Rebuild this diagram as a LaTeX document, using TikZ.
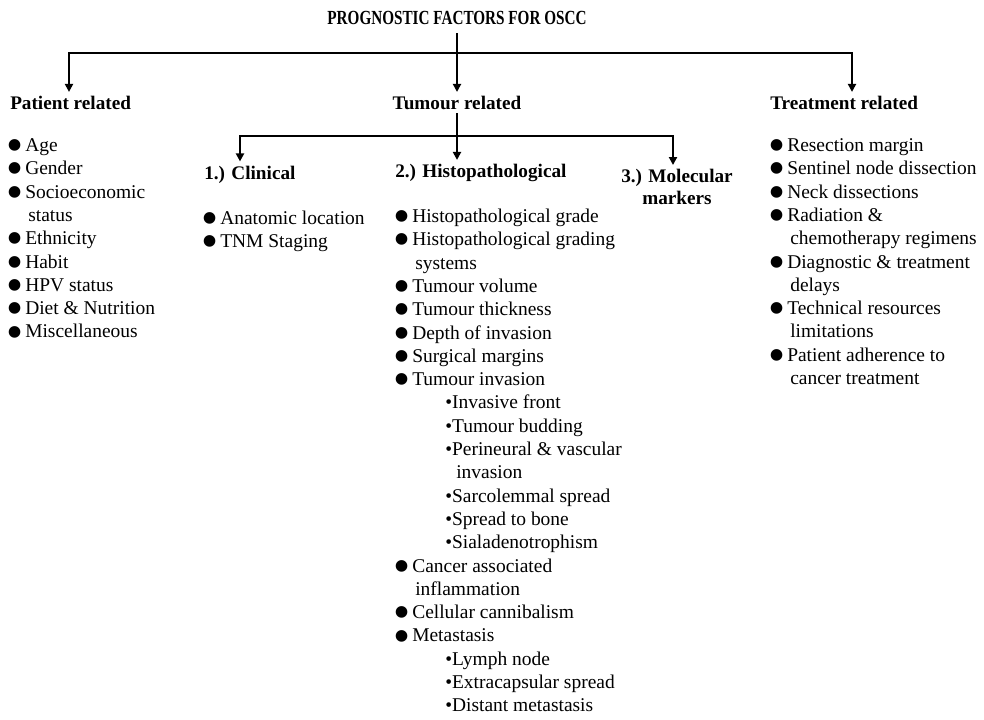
\documentclass[tikz,border=0pt]{standalone}
\usepackage{fontspec}
\setmainfont{Liberation Serif}
\usetikzlibrary{arrows.meta}

\newcommand\bul{\makebox[11.25pt][l]{\hspace*{-2.5pt}\smash{\raisebox{-0.52em}{\scalebox{2.5}{\textbullet}}}}}
\newcommand\Eb[1]{\bul#1}
\newcommand\Ec[1]{\hspace*{13.5pt}#1}
\newcommand\Es[1]{\hspace*{36pt}\textbullet#1}
\newcommand\Et[1]{\hspace*{44.25pt}#1}

\tikzset{
  wire/.style={line width=1.5pt, line cap=rect},
  link/.style={wire, -{Triangle[length=6pt,width=6pt]}},
  head/.style={font=\bfseries\fontsize{14.4}{16.5}\selectfont, inner xsep=0pt, inner ysep=3pt},
  entry/.style={font=\fontsize{14.6}{17.5}\selectfont, inner sep=0pt, anchor=base west}
}

\begin{document}
\begin{tikzpicture}[x=0.75pt,y=-0.75pt]
    \fill[white] (0,0) rectangle (984,719);
    \useasboundingbox (0,0) rectangle (984,719);
    % Primer nivel: titulo y tres grupos.
    \node[head, anchor=base, inner ysep=6.5pt, font=\bfseries\fontsize{15}{17}\selectfont] (ttl) at (457,24.5)
        {\scalebox{0.76}[1]{PROGNOSTIC FACTORS FOR OSCC}};
    \node[head, anchor=base west] (pat) at (10,109.5) {Patient related};
    \node[head, anchor=base] (tum) at (457,109.5) {Tumour related};
    \node[head, anchor=base west] (trt) at (770,109.5) {Treatment related};
    \coordinate (top) at (457,53);
    \coordinate (jp) at (69,53);
    \coordinate (jt) at (852,53);
    \draw[wire] (ttl.south) -- (top);
    \draw[wire] (jp) -- (jt);
    \draw[link] (jp) -- (jp |- pat.north);
    \draw[link] (top) -- (tum.north);
    \draw[link] (jt) -- (jt |- trt.north);
    % Segundo nivel bajo el tumor.
    \node[head, anchor=base west] (cli) at (204,179) {1.) Clinical};
    \node[head, anchor=base west] (his) at (395,177.5) {2.) Histopathological};
    \node[head, anchor=north, align=center] (mol) at (677,165) {3.) Molecular\\markers};
    \coordinate (mid) at (457,136);
    \coordinate (jc) at (240,136);
    \coordinate (jm) at (673,136);
    \draw[wire] (tum.south) -- (mid);
    \draw[wire] (jc) -- (jm);
    \draw[link] (jc) -- (jc |- cli.north);
    \draw[link] (mid) -- (mid |- his.north);
    \draw[link] (jm) -- (jm |- mol.north);
    % Listas.
    \foreach \k/\t [count=\i] in {b/Age, b/Gender, b/Socioeconomic, c/status, b/Ethnicity,
        b/Habit, b/HPV status, b/Diet \& Nutrition, b/Miscellaneous}
        \node[entry] (p\i) at (10,{151.5+23.3*(\i-1)}) {\csname E\k\endcsname{\t}};
    \foreach \k/\t [count=\i] in {b/Anatomic location, b/TNM Staging}
        \node[entry] (c\i) at (205,{224.5+23.3*(\i-1)}) {\csname E\k\endcsname{\t}};
    \foreach \k/\t [count=\i] in {b/Histopathological grade, b/Histopathological grading, c/systems,
        b/Tumour volume, b/Tumour thickness, b/Depth of invasion, b/Surgical margins,
        b/Tumour invasion, s/Invasive front, s/Tumour budding, s/Perineural \& vascular,
        t/invasion, s/Sarcolemmal spread, s/Spread to bone, s/Sialadenotrophism,
        b/Cancer associated, c/inflammation, b/Cellular cannibalism, b/Metastasis,
        s/Lymph node, s/Extracapsular spread, s/Distant metastasis}
        \node[entry] (h\i) at (397,{222.5+23.3*(\i-1)}) {\csname E\k\endcsname{\t}};
    \foreach \k/\t [count=\i] in {b/Resection margin, b/Sentinel node dissection, b/Neck dissections,
        b/Radiation \&, c/chemotherapy regimens, b/Diagnostic \& treatment, c/delays,
        b/Technical resources, c/limitations, b/Patient adherence to, c/cancer treatment}
        \node[entry] (t\i) at (772,{151.5+23.3*(\i-1)}) {\csname E\k\endcsname{\t}};
\end{tikzpicture}
\end{document}
